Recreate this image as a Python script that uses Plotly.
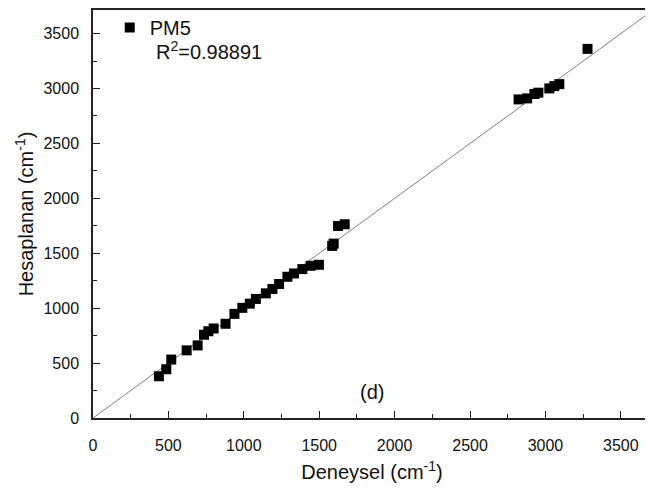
import plotly.graph_objects as go

# Experimental (Deneysel) vs computed (Hesaplanan) wavenumbers, cm^-1
deneysel = [437, 486, 519, 621, 694, 736, 765, 800, 879, 938, 990, 1040, 1080,
            1146, 1190, 1234, 1289, 1333, 1388, 1443, 1498, 1586, 1596, 1625,
            1669, 2822, 2879, 2927, 2953, 3026, 3059, 3092, 3279]
hesaplanan = [380, 444, 532, 616, 661, 758, 790, 815, 858, 948, 1003, 1041, 1084,
              1135, 1175, 1220, 1286, 1316, 1356, 1386, 1395, 1567, 1588, 1748,
              1764, 2901, 2910, 2950, 2962, 3001, 3022, 3040, 3361]
fit_line = [0, 3700]
series_name = "PM5"
r2_text = "R<sup>2</sup>=0.98891"
panel_label = "(d)"
tick_vals = [0, 500, 1000, 1500, 2000, 2500, 3000, 3500]

FONT = "Liberation Sans, Arial, sans-serif"
INK = "#111111"

fig = go.Figure()
fig.add_trace(go.Scatter(
    x=fit_line, y=fit_line, mode="lines",
    line=dict(color="#7f7f7f", width=1), showlegend=False, hoverinfo="skip"))
fig.add_trace(go.Scatter(
    x=deneysel, y=hesaplanan, mode="markers", name=series_name,
    marker=dict(symbol="square", size=10, color="black", line=dict(width=0))))

axis_common = dict(
    showgrid=False, zeroline=False, showline=True, linecolor="#222222", linewidth=1.5,
    mirror=True, ticks="inside", ticklen=7, tickwidth=1.3, tickcolor="#222222",
    tickvals=tick_vals, tickfont=dict(family=FONT, size=16, color=INK),
    minor=dict(ticks="inside", ticklen=4, tickwidth=1.3, tickcolor="#222222", dtick=250),
    automargin=True,
)

fig.update_xaxes(range=[0, 3700], ticklabelstandoff=12,
                 title=dict(text="Deneysel (cm<sup>-1</sup>)",
                            font=dict(family=FONT, size=20, color=INK), standoff=12),
                 **axis_common)
fig.update_yaxes(range=[0, 3715], ticklabelstandoff=9,
                 title=dict(text="Hesaplanan (cm<sup>-1</sup>)",
                            font=dict(family=FONT, size=20, color=INK), standoff=4),
                 **axis_common)

fig.add_annotation(x=1850, y=235, xref="x", yref="y", text=panel_label, showarrow=False,
                   font=dict(family=FONT, size=20, color=INK))
fig.add_annotation(x=(154 - 93) / 560, y=1 - (49 - 8) / 410, xref="paper", yref="paper",
                   text=r2_text, showarrow=False, xanchor="left", yanchor="middle",
                   font=dict(family=FONT, size=20, color=INK))

# page body has an 8px default margin, so the figure is sized/offset to compensate
fig.update_layout(
    width=645, height=482,
    margin=dict(l=85, r=0, t=0, b=72),
    plot_bgcolor="white", paper_bgcolor="white",
    legend=dict(x=0.030, y=1.005, xanchor="left", yanchor="top",
                bgcolor="rgba(0,0,0,0)", font=dict(family=FONT, size=20, color=INK)),
)
fig.write_html("out.html")
